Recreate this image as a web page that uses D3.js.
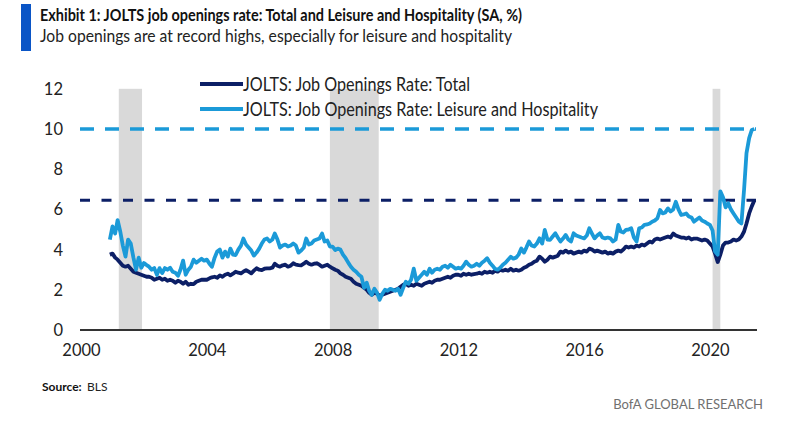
<!DOCTYPE html>
<html>
<head>
    <style>
        body { margin: 0; background: #fff; }
        svg text { font-family: Lato, "Open Sans", sans-serif; }
        .tick-label { font-size: 16.5px; fill: #222; }
        .legend text { font-size: 18.5px; fill: #222; }
    </style>
    <script src="https://d3js.org/d3.v7.min.js"></script>
</head>
<body>
    <svg width="797" height="424"></svg>
    <script>

    // monthly series, Dec 2000 .. Jun 2021 (SA, %)
    var firstMonth = new Date(2000, 11, 1);

    var total = [
        3.75,                                                              // 2000 Dec
        3.8, 3.6, 3.5, 3.35, 3.2, 3.15, 3.2, 3.05, 2.9, 2.85, 2.8, 2.75,   // 2001
        2.7, 2.65, 2.65, 2.6, 2.5, 2.55, 2.6, 2.5, 2.55, 2.45, 2.5, 2.45,  // 2002
        2.35, 2.45, 2.4, 2.3, 2.4, 2.25, 2.3, 2.28, 2.4, 2.45, 2.5, 2.5,   // 2003
        2.5, 2.57, 2.62, 2.65, 2.6, 2.72, 2.65, 2.75, 2.8, 2.72, 2.8, 2.9, // 2004
        2.85, 2.82, 2.9, 2.98, 2.9, 2.82, 2.95, 3.07, 3.0, 2.98, 3.05, 3.07, // 2005
        3.07, 3.1, 3.3, 3.2, 3.15, 3.22, 3.25, 3.15, 3.2, 3.32, 3.25, 3.23, // 2006
        3.22, 3.3, 3.4, 3.3, 3.25, 3.3, 3.32, 3.25, 3.15, 3.2, 3.25, 3.15, // 2007
        3.07, 3.0, 2.95, 2.82, 2.75, 2.65, 2.6, 2.55, 2.4, 2.3, 2.25, 2.2,  // 2008
        2.1, 2.0, 1.85, 1.75, 1.85, 1.8, 1.7, 1.75, 1.8, 1.85, 1.9, 1.95,  // 2009
        2.0, 2.05, 2.15, 2.25, 2.3, 2.2, 2.25, 2.2, 2.3, 2.25, 2.2, 2.3,   // 2010
        2.35, 2.4, 2.35, 2.45, 2.5, 2.5, 2.55, 2.6, 2.65, 2.6, 2.7, 2.75,  // 2011
        2.75, 2.7, 2.8, 2.75, 2.8, 2.75, 2.78, 2.8, 2.85, 2.8, 2.9, 2.85,  // 2012
        2.9, 2.85, 2.95, 2.9, 3.0, 2.95, 3.0, 2.95, 3.05, 2.95, 3.0, 2.95, // 2013
        3.0, 3.1, 3.15, 3.25, 3.3, 3.4, 3.45, 3.65, 3.55, 3.4, 3.5, 3.65,  // 2014
        3.6, 3.65, 3.7, 3.9, 3.85, 3.95, 3.85, 3.9, 3.8, 3.85, 3.9, 3.85,  // 2015
        3.95, 3.9, 4.05, 4.0, 3.9, 3.95, 3.9, 3.85, 3.9, 3.8, 3.85, 3.8,   // 2016
        3.9, 3.95, 3.9, 4.0, 4.15, 4.1, 4.15, 4.1, 4.2, 4.15, 4.25, 4.2,   // 2017
        4.3, 4.4, 4.35, 4.5, 4.55, 4.5, 4.55, 4.6, 4.65, 4.6, 4.8, 4.7,    // 2018
        4.65, 4.6, 4.6, 4.55, 4.6, 4.5, 4.55, 4.55, 4.5, 4.45, 4.5, 4.45,  // 2019
        4.3, 4.15, 3.8, 3.38, 3.75, 4.2, 4.35, 4.35, 4.4, 4.5, 4.45, 4.5,  // 2020
        4.65, 4.9, 5.3, 5.8, 6.15, 6.45                                    // 2021
    ];

    var leisure = [
        4.5,                                                               // 2000 Dec
        5.15, 4.8, 5.47, 4.9, 4.2, 3.65, 4.5, 4.3, 3.6, 3.0, 3.6, 3.1,     // 2001
        3.33, 3.23, 3.15, 3.0, 3.08, 2.74, 3.08, 2.83, 3.08, 3.0, 3.1, 2.9, // 2002
        2.85, 2.7, 3.0, 3.45, 2.75, 3.0, 3.15, 3.5, 3.35, 3.45, 3.55, 3.45, // 2003
        3.5, 3.3, 3.15, 3.6, 3.9, 4.0, 3.6, 3.9, 3.65, 4.05, 3.75, 3.73,   // 2004
        4.0, 4.2, 4.55, 4.25, 4.1, 3.95, 3.7, 3.85, 4.05, 4.3, 4.5, 4.55,  // 2005
        4.4, 4.5, 4.8, 4.5, 4.1, 4.2, 4.25, 4.15, 4.2, 4.3, 4.2, 3.85,     // 2006
        3.95, 4.1, 4.55, 4.25, 4.3, 4.45, 4.5, 4.55, 4.8, 4.4, 4.45, 4.15, // 2007
        4.15, 3.98, 4.05, 4.0, 3.75, 3.57, 3.35, 3.15, 3.0, 2.9, 2.75, 2.65, // 2008
        2.1, 2.35, 1.95, 1.75, 2.05, 1.85, 1.5, 1.8, 2.0, 1.95, 2.05, 2.0, // 2009
        1.95, 2.05, 1.75, 2.1, 2.4, 2.3, 2.5, 3.05, 2.45, 2.6, 2.75, 2.9,  // 2010
        2.75, 3.05, 2.85, 3.0, 3.05, 3.0, 3.15, 3.2, 3.1, 3.25, 3.15, 3.05, // 2011
        3.1, 3.05, 3.2, 3.4, 3.25, 3.15, 3.2, 3.3, 3.2, 3.35, 3.45, 3.57,  // 2012
        3.35, 3.2, 3.05, 3.0, 3.1, 3.25, 3.35, 3.5, 3.65, 3.55, 3.6, 3.75, // 2013
        4.05, 3.85, 4.1, 4.4, 4.2, 4.15, 4.3, 4.56, 4.3, 4.98, 4.5, 4.48,  // 2014
        4.65, 4.81, 4.6, 4.4, 4.55, 4.73, 4.5, 4.4, 4.81, 4.7, 4.65, 4.6,  // 2015
        4.56, 4.7, 5.06, 4.8, 4.56, 4.7, 4.81, 4.6, 4.56, 4.6, 4.56, 4.4,  // 2016
        4.5, 5.23, 4.9, 4.85, 4.98, 5.0, 5.06, 4.6, 4.4, 5.06, 5.1, 5.23,  // 2017
        5.25, 5.3, 5.39, 5.45, 5.56, 5.97, 5.8, 5.85, 6.05, 5.9, 6.0, 6.38, // 2018
        6.0, 5.72, 5.75, 5.8, 5.65, 5.6, 5.39, 5.5, 5.6, 5.45, 5.39, 5.3,  // 2019
        5.23, 4.95, 3.9, 3.75, 6.9, 6.6, 6.1, 6.3, 6.0, 5.8, 5.6, 5.4,     // 2020
        5.3, 7.0, 8.8, 9.55, 9.95, 10.0                                    // 2021
    ];

    var seriesNames = ["JOLTS: Job Openings Rate: Total",
                       "JOLTS: Job Openings Rate: Leisure and Hospitality"];
    var yTicks = [0, 2, 4, 6, 8, 10, 12];
    var xTickYears = [2000, 2004, 2008, 2012, 2016, 2020];
    // NBER recessions (start, end)
    var recessions = [["2001-03-15", "2001-12-10"],
                      ["2007-12-01", "2009-06-20"],
                      ["2020-02-01", "2020-05-01"]];

    var navy = "#0c1f66",
        sky = "#1b9ad8";

    function chart() {
        var svg = d3.select("svg");

        var x = d3.scaleTime()
                  .domain([new Date(2000, 0, 1), new Date(2021, 6, 1)])
                  .range([81, 757]);
        var y = d3.scaleLinear().domain([0, 12]).range([330, 88.8]);

        var month = function(i) { return d3.timeMonth.offset(firstMonth, i); };
        var rows = total.map(function(v, i) {
            return { date: month(i), total: v, leisure: leisure[i] };
        });

        // header
        svg.append("rect").attr("x", 21).attr("y", 4).attr("width", 10).attr("height", 47)
           .attr("fill", "#0a55c6");
        svg.append("text").attr("x", 40).attr("y", 21)
           .attr("font-size", 17).attr("font-weight", "bold").attr("fill", "#111")
           .attr("textLength", 482).attr("lengthAdjust", "spacingAndGlyphs")
           .text("Exhibit 1: JOLTS job openings rate: Total and Leisure and Hospitality (SA, %)");
        svg.append("text").attr("x", 40).attr("y", 42)
           .attr("font-size", 16.5).attr("fill", "#222")
           .attr("textLength", 472).attr("lengthAdjust", "spacingAndGlyphs")
           .text("Job openings are at record highs, especially for leisure and hospitality");

        // recession shading
        svg.append("g").selectAll("rect")
           .data(recessions)
           .enter().append("rect")
           .attr("x", function(d) { return x(new Date(d[0])); })
           .attr("width", function(d) { return x(new Date(d[1])) - x(new Date(d[0])); })
           .attr("y", y(12))
           .attr("height", y(0) - y(12))
           .attr("fill", "#d9d9d9");

        // latest-value reference lines
        var refs = [{ v: total[total.length - 1], c: navy, w: 3, dash: "10,11.5" },
                    { v: leisure[leisure.length - 1], c: sky, w: 3.5, dash: "14,11" }];
        svg.append("g").selectAll("line")
           .data(refs)
           .enter().append("line")
           .attr("x1", 80).attr("x2", 756)
           .attr("y1", function(d) { return y(d.v); })
           .attr("y2", function(d) { return y(d.v); })
           .attr("stroke", function(d) { return d.c; })
           .attr("stroke-width", function(d) { return d.w; })
           .attr("stroke-dasharray", function(d) { return d.dash; });

        // y tick labels
        svg.append("g").selectAll("text")
           .data(yTicks)
           .enter().append("text")
           .attr("class", "tick-label")
           .attr("x", 63)
           .attr("y", function(d) { return y(d); })
           .attr("dy", "0.36em")
           .attr("text-anchor", "end")
           .text(function(d) { return d; });

        // series
        var line = function(key) {
            return d3.line()
                     .x(function(d) { return x(d.date); })
                     .y(function(d) { return y(d[key]); });
        };
        svg.append("path").datum(rows)
           .attr("d", line("total"))
           .attr("fill", "none").attr("stroke", navy).attr("stroke-width", 3.8)
           .attr("stroke-linejoin", "round");
        svg.append("path").datum(rows)
           .attr("d", line("leisure"))
           .attr("fill", "none").attr("stroke", sky).attr("stroke-width", 3.8)
           .attr("stroke-linejoin", "round");

        // x axis
        var xAxis = svg.append("g")
                       .attr("transform", "translate(0," + y(0) + ")")
                       .call(d3.axisBottom(x)
                               .tickValues(xTickYears.map(function(yr) { return new Date(yr, 0, 1); }))
                               .tickFormat(d3.timeFormat("%Y"))
                               .tickSize(0)
                               .tickPadding(14));
        xAxis.select(".domain").attr("stroke", "#333").attr("stroke-width", 2)
             .attr("d", "M80,0H757");
        xAxis.selectAll("text").attr("class", "tick-label").attr("font-family", null)
             .attr("font-size", null).attr("fill", null);
        xAxis.attr("font-family", null).attr("font-size", null);

        // legend
        var legend = svg.append("g").attr("class", "legend");
        var items = legend.selectAll("g")
                          .data([{ name: seriesNames[0], c: navy, w: 227 },
                                 { name: seriesNames[1], c: sky, w: 355 }])
                          .enter().append("g")
                          .attr("transform", function(d, i) { return "translate(200," + (84 + i * 25) + ")"; });
        items.append("line").attr("x1", 0).attr("x2", 43)
             .attr("stroke", function(d) { return d.c; }).attr("stroke-width", 4);
        items.append("text").attr("x", 43).attr("dy", "0.36em")
             .attr("textLength", function(d) { return d.w; })
             .attr("lengthAdjust", "spacingAndGlyphs")
             .text(function(d) { return d.name; });

        // footer
        svg.append("text").attr("x", 42).attr("y", 391)
           .attr("font-size", 12).attr("font-weight", "bold").attr("fill", "#111")
           .text("Source:");
        svg.append("text").attr("x", 87).attr("y", 391)
           .attr("font-size", 12).attr("fill", "#222")
           .text("BLS");
        svg.append("text").attr("x", 763).attr("y", 409)
           .attr("text-anchor", "end")
           .attr("font-size", 13).attr("fill", "#707070")
           .text("BofA GLOBAL RESEARCH");
    }
    chart();
    </script>
</body>
</html>
